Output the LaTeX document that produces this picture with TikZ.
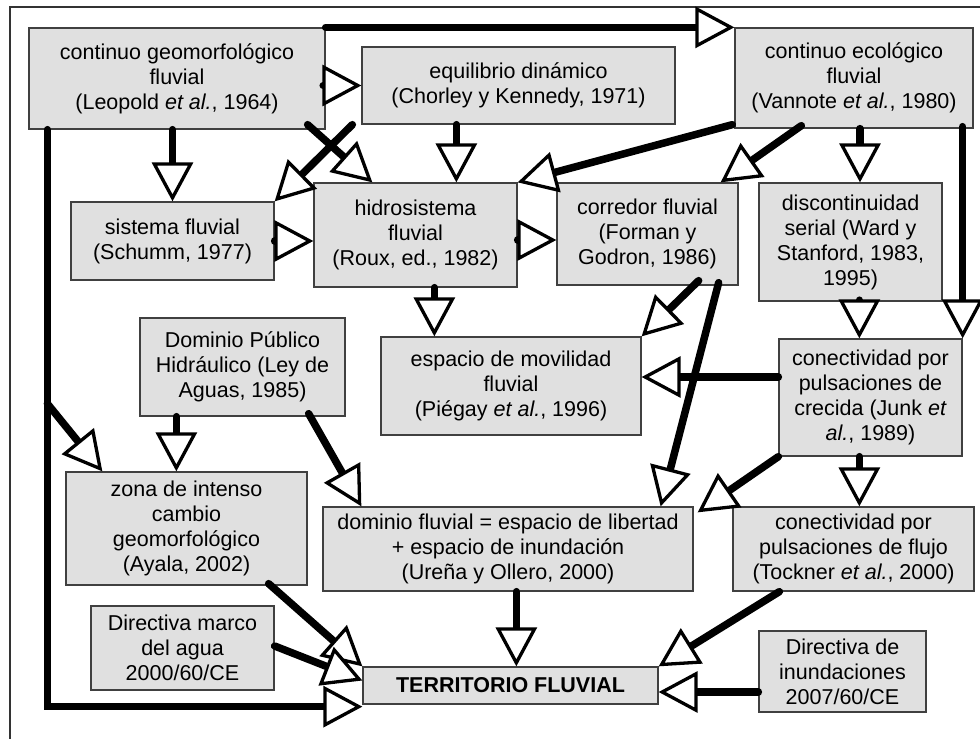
\documentclass[tikz,border=0pt]{standalone}
\usepackage{fontspec}
\setmainfont{Liberation Sans}
\usetikzlibrary{arrows.meta,calc}
\begin{document}
\begin{tikzpicture}[x=1pt,y=-1pt,
  box/.style={draw=black!75, line width=1.3pt, fill=black!12, inner sep=0pt, align=center,
    font=\fontsize{21.5}{25}\selectfont},
  arr/.style={line width=7.5pt, line cap=round,
    -{Triangle[open, length=39pt, width=41pt, line width=3.3pt, fill=white]}}]
\useasboundingbox (0,0) rectangle (980,739);
\draw[line width=1.6pt, black!80] (10,745) -- (10,7) -- (990,7);
% boxes
\node[box, minimum width=296, minimum height=101] (geo) at (177,78.5) {continuo geomorfológico\\fluvial\\(Leopold \textit{et al.}, 1964)};
\node[box, minimum width=313, minimum height=77] (equi) at (518.5,85.5) {equilibrio dinámico\\(Chorley y Kennedy, 1971)};
\node[box, minimum width=238, minimum height=100] (eco) at (854,78) {continuo ecológico\\fluvial\\(Vannote \textit{et al.}, 1980)};
\node[box, minimum width=203, minimum height=78] (sist) at (172.5,241) {sistema fluvial\\(Schumm, 1977)};
\node[box, minimum width=203, minimum height=104] (hidro) at (415.5,235) {hidrosistema\\fluvial\\(Roux, ed., 1982)};
\node[box, minimum width=181, minimum height=102] (corr) at (647.5,234) {corredor fluvial\\(Forman y\\Godron, 1986)};
\node[box, minimum width=183, minimum height=118] (disc) at (850.5,242) {discontinuidad\\serial (Ward y\\Stanford, 1983,\\1995)};
\node[box, minimum width=205, minimum height=98] (dph) at (242.5,367) {Dominio Público\\Hidráulico (Ley de\\Aguas, 1985)};
\node[box, minimum width=260, minimum height=98] (mov) at (511,386) {espacio de movilidad\\fluvial\\(Piégay \textit{et al.}, 1996)};
\node[box, minimum width=183, minimum height=117] (crec) at (870.5,397.5) {conectividad por\\pulsaciones de\\crecida (Junk \textit{et}\\\textit{al.}, 1989)};
\node[box, minimum width=241, minimum height=113] (zona) at (186.5,528.5) {zona de intenso\\cambio\\geomorfológico\\(Ayala, 2002)};
\node[box, minimum width=370, minimum height=84] (dom) at (508,549) {dominio fluvial = espacio de libertad\\+ espacio de inundación\\(Ureña y Ollero, 2000)};
\node[box, minimum width=241, minimum height=84] (flujo) at (853.5,549) {conectividad por\\pulsaciones de flujo\\(Tockner \textit{et al.}, 2000)};
\node[box, minimum width=183, minimum height=84] (dma) at (182.5,648) {Directiva marco\\del agua\\2000/60/CE};
\node[box, minimum width=295, minimum height=37] (terr) at (510.5,685.5) {\textbf{TERRITORIO FLUVIAL}};
\node[box, minimum width=167, minimum height=81] (dinu) at (842.5,671.5) {Directiva de\\inundaciones\\2007/60/CE};
% helper coordinates
\coordinate (f1) at ($(hidro.north west)+(143,0)$);
\coordinate (i1) at ($(disc.north)+(9.5,0)$);
\coordinate (p1) at ($(crec.north west)+(81,0)$);
\coordinate (s1) at ($(flujo.north west)+(127,0)$);
\coordinate (l1) at ($(hidro.east)+(0,5)$);
\coordinate (m1) at ($(mov.north west)+(54,0)$);
\coordinate (q1) at ($(mov.east)+(0,-9)$);
\coordinate (t1) at ($(zona.north west)+(111,0)$);
\coordinate (y1) at ($(terr.north west)+(154,0)$);
\coordinate (aa1) at ($(terr.east)+(0,6.5)$);
\coordinate (vb) at ($(geo.south west)+(19,274)$);
% connectors
\draw[arr] (geo.north east) -- (eco.north west);
\draw[arr] (equi.west -| geo.east) -- (equi.west);
\draw[arr] (sist.north |- geo.south) -- (sist.north);
\draw[arr] ($(geo.south east)+(-18,-5)$) -- ($(hidro.north west)+(59,0)$);
\draw[arr] ($(equi.south west)+(-9,0)$) -- (sist.north east);
\draw[arr] (f1 |- equi.south) -- (f1);
\draw[arr] ($(eco.south west)+(-2,-4)$) -- (hidro.north east);
\draw[arr] ($(eco.south west)+(67,-3)$) -- ($(corr.north east)+(-18,0)$);
\draw[arr] (i1 |- eco.south) -- (i1);
\draw[arr] ($(crec.north east |- eco.south)+(0,-2)$) -- (crec.north east);
\draw[arr] (sist.east) -- (sist.east -| hidro.west);
\draw[arr] (l1) -- (l1 -| corr.west);
\draw[arr] (m1 |- hidro.south) -- (m1);
\draw[arr] ($(corr.south east)+(-40,-5)$) -- (mov.north east);
\draw[arr] ($(corr.south east)+(-20,-3)$) -- ($(dom.north east)+(-33,0)$);
\draw[arr] (p1 |- disc.south) -- (p1);
\draw[arr] (q1 -| crec.west) -- (q1);
\draw[arr] (crec.south west) -- ($(dom.north east)+(4,6)$);
\draw[arr] (s1 |- crec.south) -- (s1);
\draw[arr] (t1 |- dph.south) -- (t1);
\draw[arr] ($(dph.south east)+(-37,-3)$) -- ($(dom.north west)+(39,0)$);
\draw[arr] ($(geo.south west)+(19,0)$) |- ($(terr.south west)+(0,2)$);
\draw[arr] (vb) -- ($(zona.north west)+(37,0)$);
\draw[arr] ($(zona.south east)+(-39,-2)$) -- (terr.north west);
\draw[arr] ($(dma.east)+(0,-2)$) -- ($(terr.west)+(0,-5)$);
\draw[arr] (y1 |- dom.south) -- (y1);
\draw[arr] ($(flujo.south west)+(47,0)$) -- (terr.north east);
\draw[arr] (aa1 -| dinu.west) -- (aa1);
\end{tikzpicture}
\end{document}
